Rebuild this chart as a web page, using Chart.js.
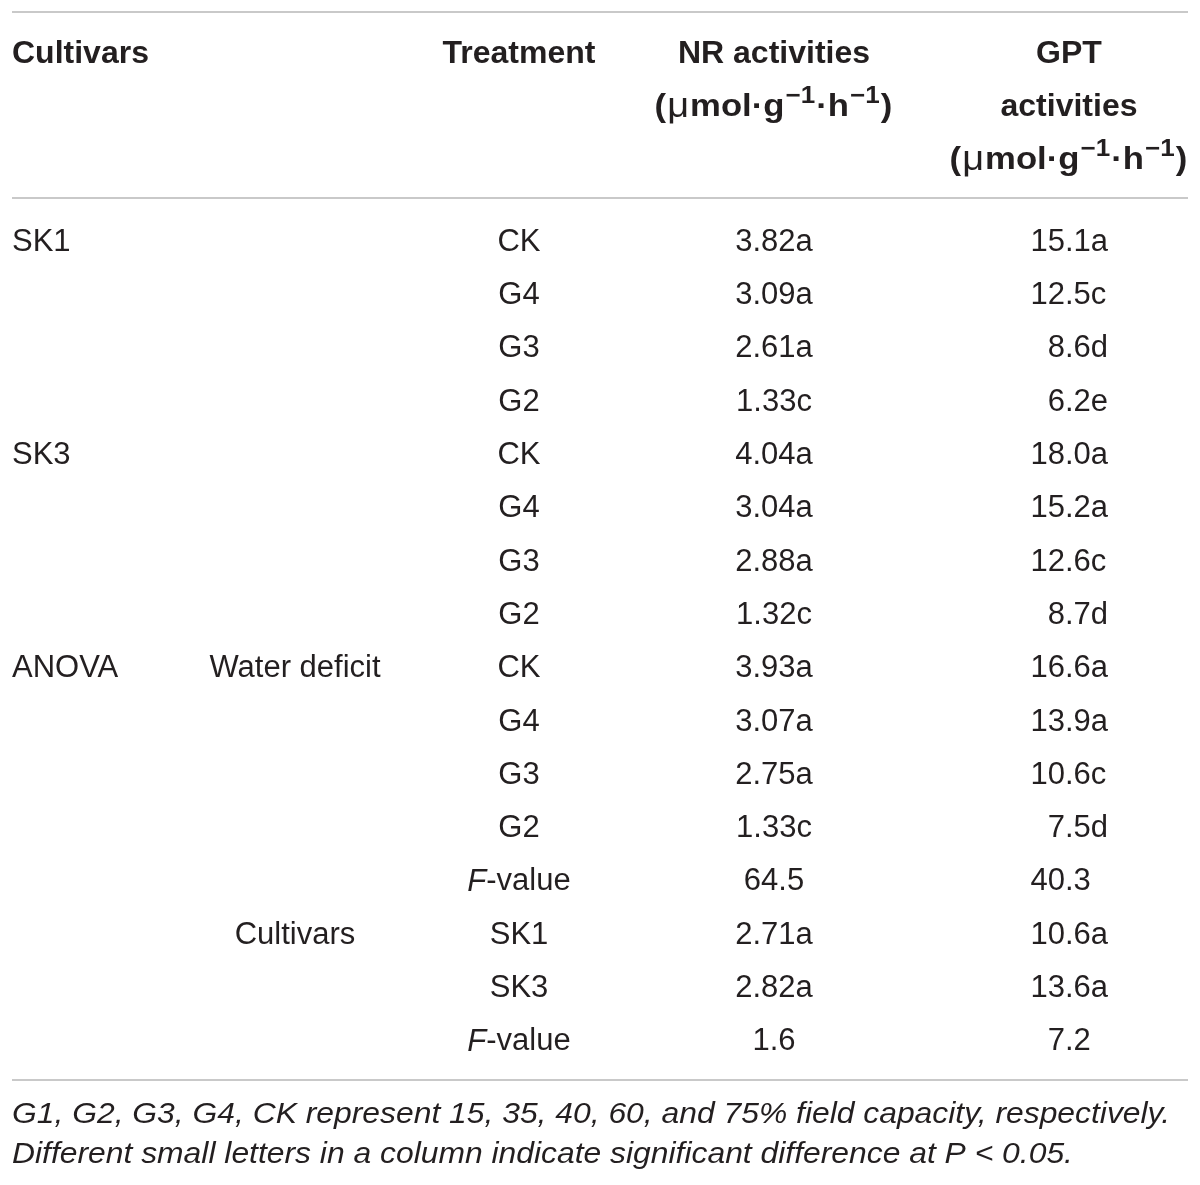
<!DOCTYPE html>
<html>
<head>
<meta charset="utf-8">
<title>NR and GPT activities</title>
<script src="https://cdn.jsdelivr.net/npm/chart.js@4.4.1/dist/chart.umd.min.js"></script>
<style>
    html, body { margin: 0; padding: 0; background: #fff; }
    #table { display: block; }
</style>
</head>
<body>
<canvas id="table" width="1200" height="1185"></canvas>
<script>
// table content
const cultivars = ['SK1', '', '', '', 'SK3', '', '', '', 'ANOVA', '', '', '', '', '', '', ''];
const factors = ['', '', '', '', '', '', '', '', 'Water deficit', '', '', '', '', 'Cultivars', '', ''];
const treatments = ['CK', 'G4', 'G3', 'G2', 'CK', 'G4', 'G3', 'G2', 'CK', 'G4', 'G3', 'G2', 'F-value', 'SK1', 'SK3', 'F-value'];
const nrValues = ['3.82a', '3.09a', '2.61a', '1.33c', '4.04a', '3.04a', '2.88a', '1.32c', '3.93a', '3.07a', '2.75a', '1.33c', '64.5', '2.71a', '2.82a', '1.6'];
const gptValues = ['15.1a', '12.5c', '8.6d', '6.2e', '18.0a', '15.2a', '12.6c', '8.7d', '16.6a', '13.9a', '10.6c', '7.5d', '40.3', '10.6a', '13.6a', '7.2'];
const footnotes = [
    'G1, G2, G3, G4, CK represent 15, 35, 40, 60, and 75% field capacity, respectively.',
    'Different small letters in a column indicate significant difference at P < 0.05.'
];

// layout (x in page units, y in row units)
const colX = [12, 295, 519, 774, 1065];
const headerRows = [-3.49, -2.49, -1.49];
const ruleRows = [-4.275, -0.7875, 15.75];
const footRows = [16.41, 17.16];

const FONT = '"Liberation Sans", Arial, sans-serif';
const INK = '#231f20';
const BODY = 31;
const DROP = 2; // nudge text down onto the row centre

function cellSet(col, labels) {
    return {
        data: labels.map((t, i) => ({ x: colX[col], y: i })),
        labels: labels,
        col: col,
        pointRadius: 0,
        pointHoverRadius: 0
    };
}

function drawUnits(ctx, cx, cy) {
    const bold = 'bold 32px ' + FONT;
    const reg = '35px ' + FONT;
    const sup = 'bold 24px ' + FONT;
    const parts = [
        { t: '(', f: bold, dy: 0 },
        { t: '\u03bc', f: reg, dy: 0 },
        { t: 'mol\u00b7g', f: bold, dy: 0 },
        { t: '\u22121', f: sup, dy: -11 },
        { t: '\u00b7h', f: bold, dy: 0 },
        { t: '\u22121', f: sup, dy: -11 },
        { t: ')', f: bold, dy: 0 }
    ];
    let total = 0;
    parts.forEach(p => { ctx.font = p.f; p.w = ctx.measureText(p.t).width + 1; total += p.w; });
    const sx = 239 / total;
    ctx.save();
    ctx.translate(cx - 239 / 2, cy);
    ctx.scale(sx, 1);
    ctx.textAlign = 'left';
    let x = 0;
    parts.forEach(p => {
        ctx.font = p.f;
        ctx.fillText(p.t, x, p.dy);
        x += p.w;
    });
    ctx.restore();
}

const tablePlugin = {
    id: 'tableText',
    afterDraw(chart) {
        const ctx = chart.ctx;
        const xs = chart.scales.x;
        const ys = chart.scales.y;
        ctx.save();

        // rules
        ctx.strokeStyle = '#c9c9c9';
        ctx.lineWidth = 2;
        ruleRows.forEach(r => {
            const y = Math.round(ys.getPixelForValue(r));
            ctx.beginPath();
            ctx.moveTo(xs.getPixelForValue(12), y);
            ctx.lineTo(xs.getPixelForValue(1188), y);
            ctx.stroke();
        });

        // header
        ctx.fillStyle = INK;
        ctx.textBaseline = 'middle';
        ctx.font = 'bold 32px ' + FONT;
        ctx.textAlign = 'left';
        ctx.fillText('Cultivars', xs.getPixelForValue(colX[0]), ys.getPixelForValue(headerRows[0]));
        ctx.textAlign = 'center';
        ctx.fillText('Treatment', xs.getPixelForValue(colX[2]), ys.getPixelForValue(headerRows[0]));
        ctx.fillText('NR activities', xs.getPixelForValue(colX[3]), ys.getPixelForValue(headerRows[0]));
        ctx.fillText('GPT', xs.getPixelForValue(1069), ys.getPixelForValue(headerRows[0]));
        ctx.fillText('activities', xs.getPixelForValue(1069), ys.getPixelForValue(headerRows[1]));
        drawUnits(ctx, xs.getPixelForValue(colX[3]), ys.getPixelForValue(headerRows[1]));
        drawUnits(ctx, xs.getPixelForValue(1069), ys.getPixelForValue(headerRows[2]));

        // body cells
        chart.data.datasets.forEach((ds, di) => {
            const meta = chart.getDatasetMeta(di);
            meta.data.forEach((pt, i) => {
                const t = ds.labels[i];
                if (!t) return;
                const y = pt.y + DROP;
                ctx.font = BODY + 'px ' + FONT;
                if (ds.col === 0) {
                    ctx.textAlign = 'left';
                    ctx.fillText(t, pt.x, y);
                } else if (ds.col === 4) {
                    const k = t.indexOf('.');
                    ctx.textAlign = 'right';
                    ctx.fillText(t.slice(0, k), pt.x, y);
                    ctx.textAlign = 'left';
                    ctx.fillText(t.slice(k), pt.x, y);
                } else if (t === 'F-value') {
                    ctx.font = 'italic ' + BODY + 'px ' + FONT;
                    const wF = ctx.measureText('F').width;
                    ctx.font = BODY + 'px ' + FONT;
                    const wR = ctx.measureText('-value').width;
                    const x0 = pt.x - (wF + wR) / 2;
                    ctx.textAlign = 'left';
                    ctx.font = 'italic ' + BODY + 'px ' + FONT;
                    ctx.fillText('F', x0, y);
                    ctx.font = BODY + 'px ' + FONT;
                    ctx.fillText('-value', x0 + wF, y);
                } else {
                    ctx.textAlign = 'center';
                    ctx.fillText(t, pt.x, y);
                }
            });
        });

        // footnote, condensed to the table width
        ctx.font = 'italic 29px ' + FONT;
        ctx.textAlign = 'left';
        const sx = 1158 / ctx.measureText(footnotes[0]).width;
        footnotes.forEach((line, i) => {
            ctx.save();
            ctx.translate(xs.getPixelForValue(12), ys.getPixelForValue(footRows[i]));
            ctx.scale(sx, 1);
            ctx.fillText(line, 0, 0);
            ctx.restore();
        });

        ctx.restore();
    }
};

new Chart(document.getElementById('table'), {
    type: 'scatter',
    data: {
        datasets: [
            cellSet(0, cultivars),
            cellSet(1, factors),
            cellSet(2, treatments),
            cellSet(3, nrValues),
            cellSet(4, gptValues)
        ]
    },
    options: {
        responsive: false,
        animation: false,
        devicePixelRatio: 1,
        layout: { padding: 0 },
        events: [],
        scales: {
            x: { type: 'linear', min: 0, max: 1200, display: false },
            y: { type: 'linear', min: -4.5, max: 17.72, reverse: true, display: false }
        },
        plugins: {
            legend: { display: false },
            tooltip: { enabled: false }
        }
    },
    plugins: [tablePlugin]
});
</script>
</body>
</html>
